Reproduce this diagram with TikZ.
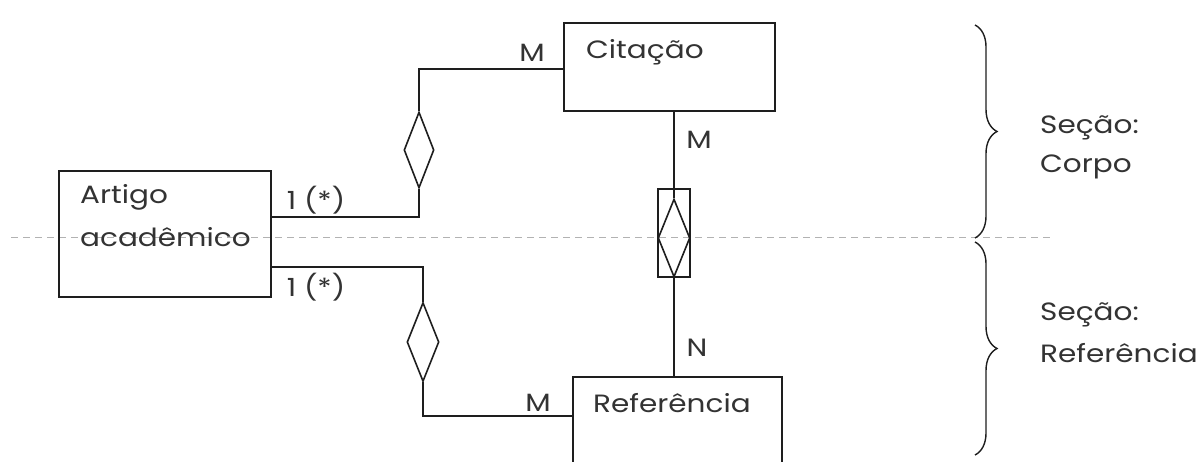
\documentclass[tikz,border=0pt]{standalone}
\usepackage{fontspec}
\setmainfont{Poppins}[FakeStretch=1.18]
\usetikzlibrary{shapes.geometric,decorations.pathreplacing}
\definecolor{ln}{HTML}{1E1E1E}
\definecolor{tx}{HTML}{333333}
\begin{document}
\begin{tikzpicture}[x=1pt,y=-1pt,
  every node/.style={font=\fontsize{25}{30}\selectfont, text=tx},
  entbox/.style={draw=ln, line width=2pt, rectangle, inner sep=0pt},
  relshape/.style={draw=ln, line width=1.6pt, diamond, inner sep=0pt, aspect=1},
  conn/.style={draw=ln, line width=2pt},
  lbl/.style={inner sep=0pt, anchor=west},
  brc/.style={draw=ln, line width=1.4pt, decorate, decoration={brace, amplitude=22pt}}]
\useasboundingbox (0,0) rectangle (1198,462);
\fill[white] (0,0) rectangle (1198,462);
% dashed separator
\draw[gray!60, line width=1pt, dash pattern=on 7pt off 5pt] (11,238) -- (1050,238);
% entities
\node[entbox, minimum width=212pt, minimum height=126pt] (art) at (165,234) {};
\node[entbox, minimum width=211pt, minimum height=88pt] (cit) at (669.5,67) {};
\node[entbox, minimum width=209pt, minimum height=98pt] (ref) at (677.5,426) {};
\node[lbl] (tart1) at (80,197) {Artigo};
\node[lbl] (tart2) at (80,237) {acadêmico};
\node[lbl] (tcit) at (586,52) {Citação};
\node[lbl] (tref) at (593,403) {Referência};
% relationships
\node[relshape, minimum width=30pt, minimum height=76pt] (d1) at (419,150) {};
\node[relshape, minimum width=32pt, minimum height=79pt] (d2) at (423,342) {};
\node[entbox, line width=1.6pt, minimum width=32pt, minimum height=88pt] (rel) at (674,233) {};
\node[relshape, minimum width=32pt, minimum height=78pt] (rd) at (674,238) {};
% connectors
\draw[conn] ([yshift=17pt]art.east) -| (d1.south);
\draw[conn] (d1.north) |- ([yshift=-2pt]cit.west);
\draw[conn] ([yshift=-33pt]art.east) -| (d2.north);
\draw[conn] (d2.south) |- ([yshift=10pt]ref.west);
\draw[conn] (rd.north |- cit.south) -- (rd.north);
\draw[conn] (rd.south) -- (rd.south |- ref.north);
% cardinalities
\node (m1) at (532,53) {M};
\node (c1) at (316,200) {1 (*)};
\node (c2) at (316,287) {1 (*)};
\node (m2) at (699,140) {M};
\node (n1) at (697,348) {N};
\node (m3) at (538,403) {M};
% braces
\coordinate (b1a) at (975,25);
\coordinate (b1b) at (975,238);
\coordinate (b2a) at (975,242);
\coordinate (b2b) at (975,455);
\draw[brc] (b1a) -- (b1b);
\draw[brc] (b2a) -- (b2b);
\node[lbl] (s1) at (1040,128) {Seção:};
\node[lbl] (s2) at (1040,167) {Corpo};
\node[lbl] (s3) at (1040,315) {Seção:};
\node[lbl] (s4) at (1040,353) {Referência};
\end{tikzpicture}
\end{document}
